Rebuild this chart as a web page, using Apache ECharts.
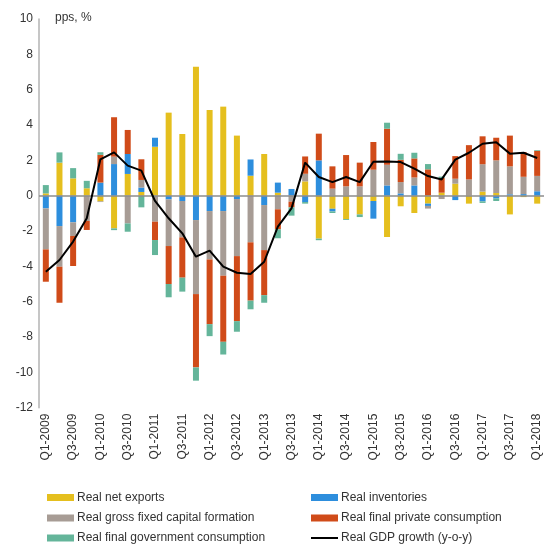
<!DOCTYPE html>
<html><head><meta charset="utf-8">
<script src="https://cdn.jsdelivr.net/npm/echarts@6/dist/echarts.min.js"></script>
<style>html,body{margin:0;padding:0;background:#fff}#c{width:551px;height:544px}</style>
</head><body><div id="c"></div>
<script>
var categories = ['Q1-2009','Q2-2009','Q3-2009','Q4-2009','Q1-2010','Q2-2010','Q3-2010','Q4-2010','Q1-2011','Q2-2011','Q3-2011','Q4-2011','Q1-2012','Q2-2012','Q3-2012','Q4-2012','Q1-2013','Q2-2013','Q3-2013','Q4-2013','Q1-2014','Q2-2014','Q3-2014','Q4-2014','Q1-2015','Q2-2015','Q3-2015','Q4-2015','Q1-2016','Q2-2016','Q3-2016','Q4-2016','Q1-2017','Q2-2017','Q3-2017','Q4-2017','Q1-2018'];
var netExports = [0.13,1.87,0.98,0.42,-0.32,-1.85,1.23,0.21,2.77,4.7,3.49,7.3,4.85,5.04,3.4,1.13,2.36,0.17,0,0.81,-2.43,-0.74,-1.32,-1.06,-0.3,-2.34,-0.6,-0.98,-0.45,0.17,0.68,-0.45,0.23,0.15,-1.06,-0.08,-0.45];
var inventories = [-0.72,-1.72,-1.51,0,0.74,1.79,1.13,0.25,0.51,-0.21,-0.3,-1.38,-0.87,-0.87,-0.19,0.92,-0.53,0.57,0.38,-0.36,2.0,-0.15,0,0,-1.0,0.58,0.13,0.58,-0.13,0,-0.25,0,-0.32,-0.15,0.08,0.09,0.25];
var gfcf = [-2.32,-2.3,-0.77,-1.43,-0.04,0.42,-1.57,0.43,-1.47,-2.64,-2.06,-4.19,-2.74,-3.66,-3.23,-2.64,-2.55,-0.77,-0.34,0.43,0,0.4,0.53,0.53,1.47,1.17,0.64,0.45,-0.15,-0.19,0.28,0.92,1.55,1.85,1.58,0.98,0.87];
var privateCons = [-1.83,-2.04,-1.7,-0.51,1.57,2.23,1.36,1.17,-1.04,-2.15,-2.28,-4.15,-3.66,-3.74,-3.68,-3.3,-2.55,-1.13,-0.32,0.98,1.51,1.26,1.77,1.34,1.57,2.04,1.26,1.08,1.49,0.83,1.28,1.94,1.58,1.28,1.74,1.4,1.42];
var govCons = [0.47,0.58,0.58,0.42,0.15,-0.1,-0.47,-0.66,-0.85,-0.75,-0.79,-0.75,-0.68,-0.72,-0.6,-0.49,-0.43,-0.51,-0.47,-0.09,-0.09,-0.09,-0.05,-0.15,0,0.34,0.34,0.32,0.3,0.08,0,0,-0.09,-0.15,0,0,0.04];
var gdpGrowth = [-4.3,-3.64,-2.6,-1.28,2.06,2.45,1.7,1.42,-0.3,-1.28,-2.13,-3.45,-3.11,-4.02,-4.36,-4.43,-3.74,-1.75,-0.72,1.87,1.06,0.77,1.06,0.77,1.92,1.94,1.9,1.53,1.11,0.92,2.04,2.43,2.94,3.02,2.38,2.43,2.13];
var seriesNames = ['Real net exports','Real inventories','Real gross fixed capital formation','Real final private consumption','Real final government consumption','Real GDP growth (y-o-y)'];

var colors = ['#E5BF1E','#2D8EDD','#A79C95','#D04B19','#64B59A','#000000'];
var font = '"Liberation Sans", Arial, sans-serif';
function bar(name, data, color){
  return {name:name,type:'bar',stack:'total',data:data,barWidth:6,itemStyle:{color:color},emphasis:{disabled:true}};
}
var legendLeft = [47, 311, 47, 311, 47, 311];
var legendTop = [491.5, 491.5, 512, 512, 532, 532];
var legends = seriesNames.map(function(n, i){
  var isLine = (i === 5);
  return {orient:'horizontal',left:legendLeft[i],top:legendTop[i],padding:0,
    itemWidth:27,itemHeight:isLine?2:7,
    data:[{name:n,icon:'rect'}],
    textStyle:{fontSize:12,color:'#333',fontFamily:font,padding:[0,0,0,-2]}};
});
var chart = echarts.init(document.getElementById('c'), null, {renderer:'canvas'});
chart.setOption({
  animation:false,
  textStyle:{fontFamily:font},
  grid:{left:39, top:19, width:505, height:388.7, containLabel:false},
  xAxis:{type:'category',data:categories,
    axisLine:{show:false},axisTick:{show:false},
    axisLabel:{interval:1,rotate:90,fontSize:12,color:'#333',fontFamily:font,margin:6}},
  yAxis:{type:'value',min:-12,max:10,interval:2,
    axisLine:{show:true,lineStyle:{color:'#b3b3b3',width:1.5}},
    axisTick:{show:false},splitLine:{show:false},
    axisLabel:{fontSize:12,color:'#333',fontFamily:font,margin:6}},
  legend:legends,
  graphic:[{type:'text',left:55,top:12,style:{text:'pps, %',font:'12px '+font,fill:'#333'}}],
  series:[
    bar(seriesNames[0], netExports, colors[0]),
    bar(seriesNames[1], inventories, colors[1]),
    bar(seriesNames[2], gfcf, colors[2]),
    bar(seriesNames[3], privateCons, colors[3]),
    bar(seriesNames[4], govCons, colors[4]),
    {name:seriesNames[5],type:'line',data:gdpGrowth,symbol:'none',showSymbol:false,
     lineStyle:{color:'#000',width:2},itemStyle:{color:'#000'},z:5,
     markLine:{silent:true,symbol:'none',label:{show:false},
       lineStyle:{color:'#8c8c8c',width:1.5,type:'solid'},data:[{yAxis:0}]}}
  ]
});
</script></body></html>
